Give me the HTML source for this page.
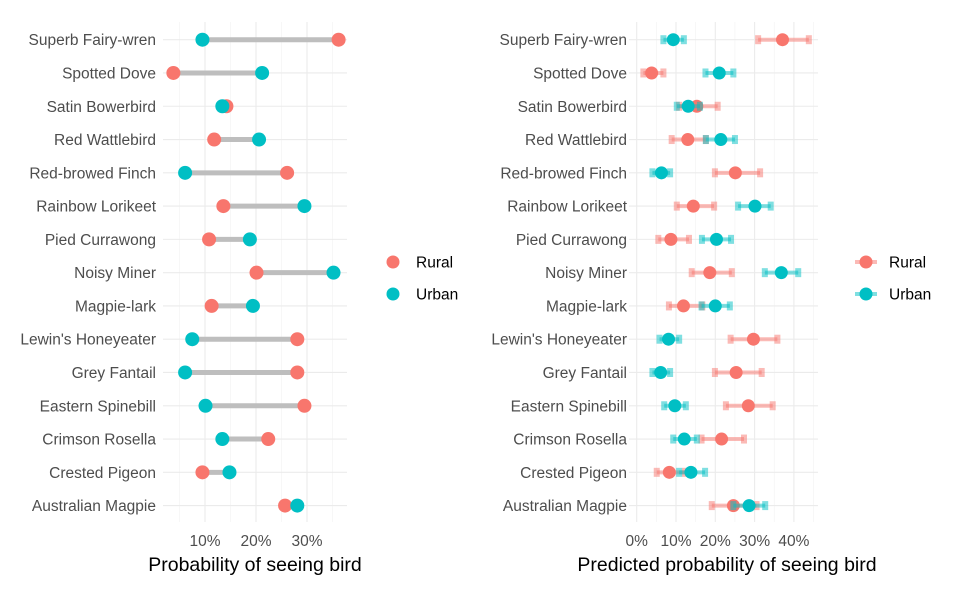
<!DOCTYPE html>
<html><head><meta charset="utf-8"><style>
body{margin:0;background:#fff;}
svg{display:block;font-family:"Liberation Sans",sans-serif;}
</style></head><body>
<svg id="chart" width="962" height="594" viewBox="0 0 962 594"></svg>
<script>
const species=["Superb Fairy-wren","Spotted Dove","Satin Bowerbird","Red Wattlebird","Red-browed Finch","Rainbow Lorikeet","Pied Currawong","Noisy Miner","Magpie-lark","Lewin's Honeyeater","Grey Fantail","Eastern Spinebill","Crimson Rosella","Crested Pigeon","Australian Magpie"];
const obsRural=[36.2,3.8,14.2,11.8,26.1,13.6,10.8,20.1,11.3,28.1,28.1,29.5,22.4,9.5,25.7];
const obsUrban=[9.5,21.2,13.4,20.6,6.1,29.5,18.8,35.2,19.4,7.5,6.1,10.1,13.4,14.8,28.1];
const predRural=[37.1,3.8,15.3,13.0,25.1,14.4,8.7,18.6,11.9,29.7,25.3,28.4,21.6,8.3,24.6];
const predRuralLo=[30.9,1.7,10.8,8.9,19.9,10.2,5.5,14.0,8.2,23.9,19.9,22.7,16.5,5.1,19.1];
const predRuralHi=[43.8,6.8,20.6,17.6,31.4,19.7,13.3,24.2,16.7,35.8,31.8,34.6,27.3,12.3,30.5];
const predUrban=[9.3,21.0,13.1,21.4,6.3,30.1,20.3,36.8,20.0,8.1,6.1,9.7,12.1,13.8,28.6];
const predUrbanLo=[6.8,17.5,10.2,17.6,4.0,25.8,16.6,32.6,16.5,5.8,4.0,7.0,9.3,10.8,24.6];
const predUrbanHi=[12.0,24.6,16.1,25.0,8.5,34.1,24.0,41.1,23.7,10.8,8.5,12.5,15.3,17.4,32.7];
const leftTicks=[10,20,30];
const rightTicks=[0,10,20,30,40];
const RED="#F8766D",TEAL="#00BFC4";
const svg=document.getElementById('chart');
const NS="http://www.w3.org/2000/svg";
function mk(tag,attrs,parent){const e=document.createElementNS(NS,tag);for(const k in attrs)e.setAttribute(k,attrs[k]);(parent||svg).appendChild(e);return e;}
const yRow=i=>39.7+i*(505.6-39.7)/14;
const xL=p=>154+p*5.1;
const xR=p=>636.7+p*3.93;
function grid(x0,x1,scale,majors,minors){
  const g=mk('g',{});
  
  minors.forEach(p=>mk('line',{x1:scale(p),x2:scale(p),y1:22,y2:522,stroke:'#f2f2f2','stroke-width':0.6},g));
  majors.forEach(p=>mk('line',{x1:scale(p),x2:scale(p),y1:22,y2:522,stroke:'#ebebeb','stroke-width':1.1},g));
  species.forEach((s,i)=>mk('line',{x1:x0,x2:x1,y1:yRow(i),y2:yRow(i),stroke:'#ebebeb','stroke-width':1.1},g));
}
grid(163,347,xL,leftTicks,[5,15,25,35]);
grid(629,818,xR,rightTicks,[5,15,25,35,45].filter(p=>xR(p)<818));
function labels(xr,name){
  const g=mk('g',{});
  
  species.forEach((s,i)=>{const t=mk('text',{x:xr,y:yRow(i)+5.5,'text-anchor':'end','font-size':15.5,fill:'#4d4d4d'},g);t.textContent=s;});
}
labels(156,'left-y-axis-labels');
labels(627,'right-y-axis-labels');
function ticks(arr,scale,name){
  const g=mk('g',{});
  
  arr.forEach(p=>{const t=mk('text',{x:scale(p),y:546,'text-anchor':'middle','font-size':15.5,fill:'#4d4d4d'},g);t.textContent=p+'%';});
}
ticks(leftTicks,xL,'left-x-ticks');
ticks(rightTicks,xR,'right-x-ticks');
let t=mk('text',{x:255,y:571,'text-anchor':'middle','font-size':19.5,fill:'#000'});t.textContent='Probability of seeing bird';

t=mk('text',{x:727,y:571,'text-anchor':'middle','font-size':19.5,fill:'#000'});t.textContent='Predicted probability of seeing bird';

species.forEach((s,i)=>{
  const y=yRow(i);
  const l=mk('line',{x1:xL(obsRural[i]),x2:xL(obsUrban[i]),y1:y,y2:y,stroke:'#bebebe','stroke-width':5});
  
  const c1=mk('circle',{cx:xL(obsRural[i]),cy:y,r:7,fill:RED});
  
  const c2=mk('circle',{cx:xL(obsUrban[i]),cy:y,r:7,fill:TEAL});
  
});
function errbar(lo,hi,pt,y,col,name){
  const g=mk('g',{});
  
  mk('line',{x1:xR(lo),x2:xR(hi),y1:y,y2:y,stroke:col,'stroke-width':4,'stroke-opacity':0.5},g);
  mk('rect',{x:xR(lo)-3,y:y-4.5,width:6,height:9,fill:col,'fill-opacity':0.5},g);
  mk('rect',{x:xR(hi)-3,y:y-4.5,width:6,height:9,fill:col,'fill-opacity':0.5},g);
  mk('circle',{cx:xR(pt),cy:y,r:6.5,fill:col},g);
}
species.forEach((s,i)=>{
  const y=yRow(i);
  errbar(predRuralLo[i],predRuralHi[i],predRural[i],y,RED,'rural-estimate');
  errbar(predUrbanLo[i],predUrbanHi[i],predUrban[i],y,TEAL,'urban-estimate');
});
function legend(x,tx,withBar,name){
  const g=mk('g',{});
  
  [["Rural",RED,262],["Urban",TEAL,294]].forEach(([lab,col,y])=>{
    if(withBar){mk('line',{x1:x-11,x2:x+11,y1:y,y2:y,stroke:col,'stroke-width':4,'stroke-opacity':0.5},g);}
    mk('circle',{cx:x,cy:y,r:6.5,fill:col},g);
    const tt=mk('text',{x:tx,y:y+5.5,'font-size':15.5,fill:'#000'},g);tt.textContent=lab;
  });
}
legend(393,416,false,'left-legend');
legend(866,889,true,'right-legend');
</script>
</body></html>
